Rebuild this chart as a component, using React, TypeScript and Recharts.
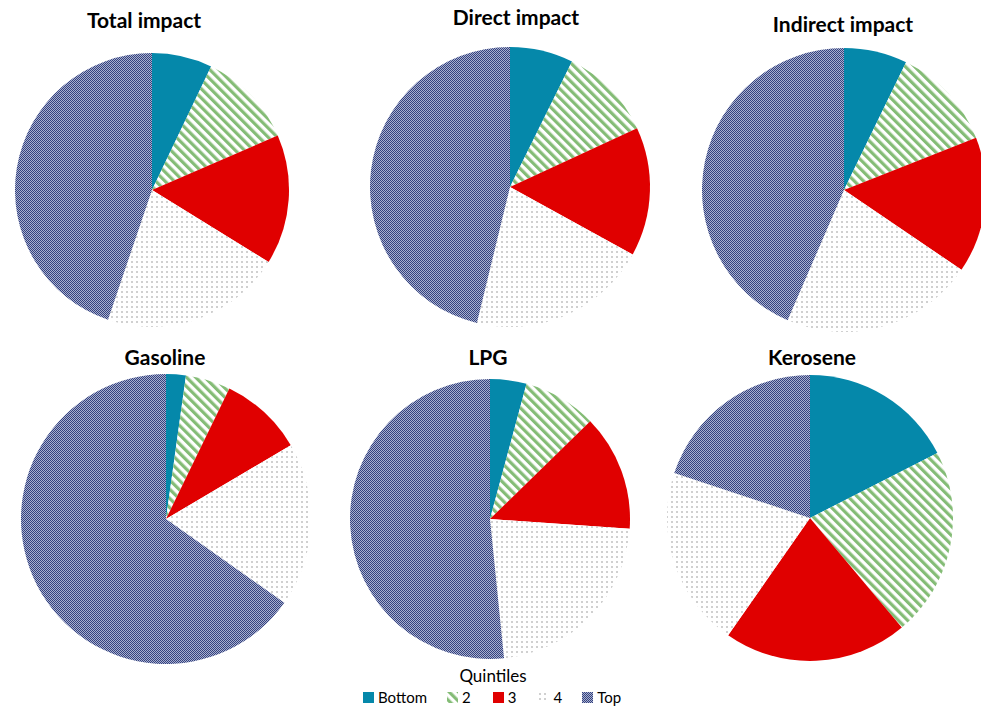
import React from "react";
import { Cell, Pie, PieChart } from "recharts";

const quintiles = ["Bottom", "2", "3", "4", "Top"];

const totalImpact = [7.1, 11.4, 15.3, 21.4, 44.8];
const directImpact = [7.3, 10.8, 14.9, 20.8, 46.2];
const indirectImpact = [7.2, 11.8, 15.5, 22.0, 43.5];
const gasoline = [2.2, 5.0, 9.3, 18.3, 65.2];
const lpg = [4.2, 8.5, 13.4, 22.3, 51.6];
const kerosene = [17.5, 21.4, 20.8, 20.4, 19.9];

const fills = ["#0588aa", "url(#stripes)", "#e00000", "url(#dots)", "url(#checker)"];

const toRows = (values: number[]) =>
  values.map((value, i) => ({ name: quintiles[i], value }));

const pies = [
  { title: "Total impact", data: totalImpact, cx: 152, cy: 190, r: 137, tx: 144, ty: 7 },
  { title: "Direct impact", data: directImpact, cx: 510, cy: 187, r: 140, tx: 516, ty: 4 },
  { title: "Indirect impact", data: indirectImpact, cx: 844, cy: 190, r: 142, tx: 843, ty: 11 },
  { title: "Gasoline", data: gasoline, cx: 166, cy: 519, r: 145, tx: 165, ty: 344 },
  { title: "LPG", data: lpg, cx: 490, cy: 519, r: 140, tx: 488, ty: 344 },
  { title: "Kerosene", data: kerosene, cx: 810, cy: 518, r: 143, tx: 812, ty: 344 },
];

const font = "Lato, 'Open Sans', sans-serif";

function Swatch({ fill }: { fill: string }) {
  return (
    <svg width={11} height={11} style={{ marginRight: 4 }}>
      <rect width={11} height={11} fill={fill} />
    </svg>
  );
}

export default function App() {
  return (
    <div style={{ position: "absolute", left: 0, top: 0, width: 981, height: 706, background: "#fff", overflow: "hidden", fontFamily: font }}>
      <svg width={0} height={0} style={{ position: "absolute" }}>
        <defs>
          <pattern id="stripes" patternUnits="userSpaceOnUse" width={6.5} height={6.5} patternTransform="rotate(-45)">
            <rect width={6.5} height={6.5} fill="#ffffff" />
            <rect width={3.2} height={6.5} fill="#84bc76" />
          </pattern>
          <pattern id="dots" patternUnits="userSpaceOnUse" width={5} height={5}>
            <rect width={5} height={5} fill="#ffffff" />
            <rect x={1} y={1} width={2} height={2} fill="#d0d0d0" />
          </pattern>
          <pattern id="checker" patternUnits="userSpaceOnUse" width={2} height={2}>
            <rect width={2} height={2} fill="#a9b0cf" />
            <rect width={1} height={1} fill="#34427e" />
            <rect x={1} y={1} width={1} height={1} fill="#34427e" />
          </pattern>
        </defs>
      </svg>
      <PieChart width={981} height={706} margin={{ top: 0, right: 0, bottom: 0, left: 0 }}>
        {pies.map((p) => (
          <Pie
            key={p.title}
            data={toRows(p.data)}
            dataKey="value"
            nameKey="name"
            cx={p.cx}
            cy={p.cy}
            outerRadius={p.r}
            startAngle={90}
            endAngle={-270}
            stroke="none"
            isAnimationActive={false}
          >
            {p.data.map((_, i) => (
              <Cell key={i} fill={fills[i]} />
            ))}
          </Pie>
        ))}
      </PieChart>
      {pies.map((p) => (
        <div
          key={p.title}
          style={{
            position: "absolute",
            left: p.tx - 100,
            top: p.ty,
            width: 200,
            textAlign: "center",
            fontWeight: 700,
            fontSize: 21,
            lineHeight: "26px",
            color: "#000",
          }}
        >
          {p.title}
        </div>
      ))}
      <div style={{ position: "absolute", left: 393, top: 665, width: 200, textAlign: "center", fontSize: 17, lineHeight: "22px" }}>
        Quintiles
      </div>
      <div style={{ position: "absolute", left: 363, top: 688, display: "flex", alignItems: "center", fontSize: 15, lineHeight: "18px" }}>
        {quintiles.map((q, i) => (
          <div key={q} style={{ display: "flex", alignItems: "center", marginRight: [20, 22, 22, 20, 0][i] }}>
            <Swatch fill={fills[i]} />
            <span>{q}</span>
          </div>
        ))}
      </div>
    </div>
  );
}
